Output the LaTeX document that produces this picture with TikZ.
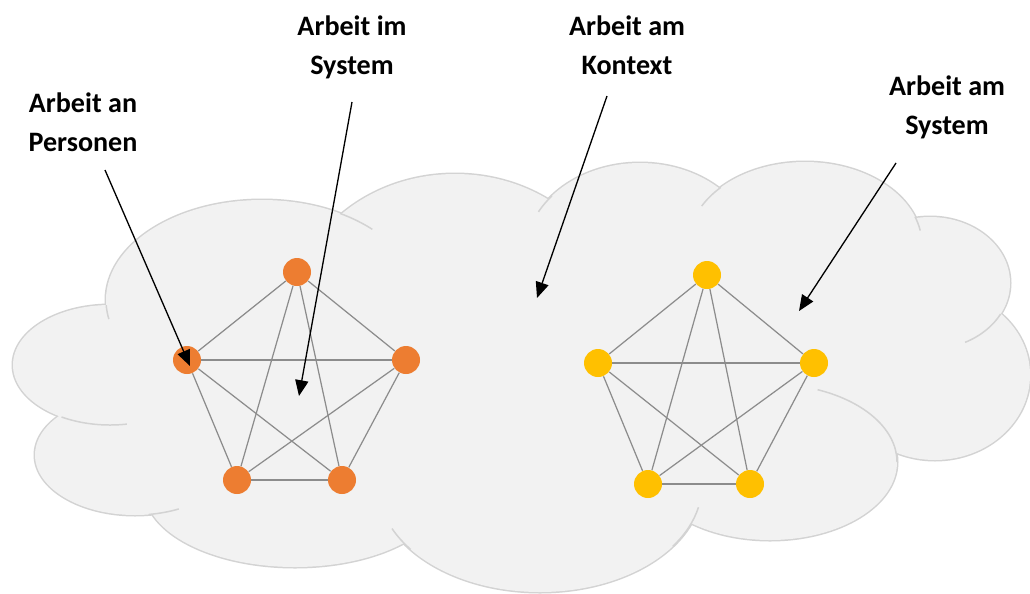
\documentclass[tikz,border=0pt]{standalone}
\usepackage{fontspec}
\setmainfont{Carlito}
\usetikzlibrary{arrows.meta}
\definecolor{cloudfill}{HTML}{F2F2F2}
\definecolor{cloudline}{HTML}{D3D3D3}
\definecolor{edgegray}{HTML}{8C8C8C}
\definecolor{dotorange}{HTML}{ED7D31}
\definecolor{dotyellow}{HTML}{FFC000}

\begin{document}
\begin{tikzpicture}[x=0.02cm, y=0.02cm,
  lbltext/.style={font=\bfseries\fontsize{16}{20}\selectfont, anchor=base, inner sep=0pt},
  dot/.style={circle, minimum size=0.56cm, inner sep=0pt, fill=#1},
  link/.style={draw=edgegray, line width=0.7pt},
  pointer/.style={-{Triangle[length=9pt,width=7.5pt]}, line width=0.75pt, draw=black},
  puffline/.style={draw=cloudline, line width=0.85pt}
]
\useasboundingbox (0,0) rectangle (1030,-593);

% cloud puffs: centre x / centre y / x radius / y radius
\def\puffs{110/-365/97/60, 262/-300/156/100, 135/-455/100/60, 295/-490/150/77,
  540/-485/162/107, 770/-462/127/78, 935/-375/95/85, 930/-283/80/66,
  805/-245/117/83, 640/-255/115/92, 455/-320/165/146}

% outer outline: stroke every puff, then cover the inner halves with the fill
\foreach \cx/\cy/\rx/\ry in \puffs
  \draw[cloudline, line width=1.7pt] (\cx,\cy) ellipse [x radius=\rx, y radius=\ry];
\foreach \cx/\cy/\rx/\ry in \puffs
  \fill[cloudfill] (\cx,\cy) ellipse [x radius=\rx, y radius=\ry];
% body of the cloud between the puffs
\fill[cloudfill] (600,-370) ellipse [x radius=330, y radius=150];
\fill[cloudfill] (230,-410) ellipse [x radius=110, y radius=50];

% inner arcs where the puffs overlap
\foreach \cx/\cy/\rx/\ry/\ta/\tb in {
  262/-300/156/100/60/45, 262/-300/156/100/183/191,
  110/-365/97/60/240/280, 135/-455/100/60/278/296,
  540/-485/162/107/204/217, 540/-485/162/107/325/348,
  770/-462/127/78/0/68, 930/-283/80/66/296/332,
  805/-245/117/83/10/20, 805/-245/117/83/136/152,
  640/-255/115/92/140/152}
  \draw[puffline] (\cx,\cy) ++({\ta}:{\rx} and {\ry})
    arc[start angle=\ta, end angle=\tb, x radius=\rx, y radius=\ry];

% left network
\node[dot=dotorange] (o1) at (297,-272) {};
\node[dot=dotorange] (o2) at (187,-360) {};
\node[dot=dotorange] (o3) at (406,-360) {};
\node[dot=dotorange] (o4) at (237,-480) {};
\node[dot=dotorange] (o5) at (342,-480) {};

% right network
\node[dot=dotyellow] (y1) at (707,-275) {};
\node[dot=dotyellow] (y2) at (598,-363) {};
\node[dot=dotyellow] (y3) at (814,-363) {};
\node[dot=dotyellow] (y4) at (648,-484) {};
\node[dot=dotyellow] (y5) at (750,-484) {};

\foreach \a/\b in {1/2,1/3,1/4,1/5,2/3,2/4,2/5,3/4,3/5,4/5}{
  \draw[link] (o\a) -- (o\b);
  \draw[link] (y\a) -- (y\b);
}

% captions
\node[lbltext] (pa) at (83,-112) {Arbeit an};
\node[lbltext] (pb) at (83,-151) {Personen};
\node[lbltext] (sa) at (352,-35) {Arbeit im};
\node[lbltext] (sb) at (352,-74) {System};
\node[lbltext] (ka) at (627,-35) {Arbeit am};
\node[lbltext] (kb) at (627,-74) {Kontext};
\node[lbltext] (ya) at (947,-95) {Arbeit am};
\node[lbltext] (yb) at (947,-134) {System};

% pointers
\coordinate (s1) at (105,-170); \coordinate (e1) at (190,-366);
\coordinate (s2) at (352,-102); \coordinate (e2) at (299,-396);
\coordinate (s3) at (607,-96);  \coordinate (e3) at (537,-298);
\coordinate (s4) at (896,-163); \coordinate (e4) at (799,-311);
\draw[pointer] (s1) -- (e1);
\draw[pointer] (s2) -- (e2);
\draw[pointer] (s3) -- (e3);
\draw[pointer] (s4) -- (e4);
\end{tikzpicture}
\end{document}
